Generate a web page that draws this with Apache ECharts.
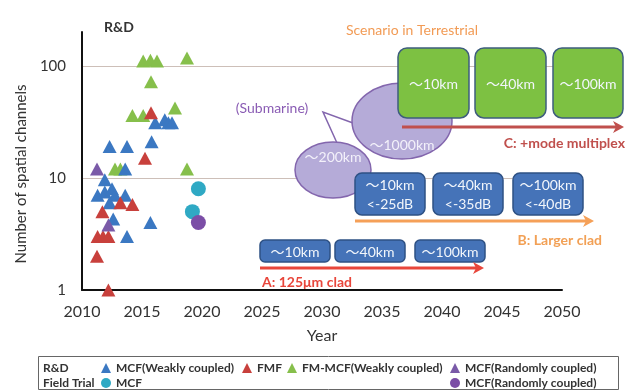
<!DOCTYPE html>
<html><head><meta charset="utf-8">
<script src="https://cdn.jsdelivr.net/npm/echarts@6/dist/echarts.min.js"></script>
<style>html,body{margin:0;padding:0;background:#fff}#c{width:635px;height:390px}</style>
</head><body><div id="c"></div>
<script>
// ---- data (year, number of spatial channels) ----
const mcfWeakly = [[2012.3,19],[2013.75,19],[2015.8,21],[2016.1,31],[2016.9,33],[2017.2,31],[2017.5,31],
  [2013.6,12],[2011.9,9.6],[2011.3,7],[2011.9,7.5],[2012.5,8],[2012.75,7],[2013.6,7],[2012.3,6],
  [2012.6,4.3],[2015.7,4],[2013.75,3]];
const fmf = [[2015.75,38],[2015.25,15],[2013.2,6],[2014.2,5.8],[2011.7,5],[2011.3,3],[2011.75,3],[2012.2,3],
  [2011.25,2],[2012.2,1]];
const fmMcfWeakly = [[2015.1,110],[2015.7,112],[2016.25,110],[2018.75,117],[2015.75,72],[2014.2,36],[2015.1,36],
  [2017.75,42],[2012.75,12],[2013.2,12],[2018.75,12]];
const mcfRandomly = [[2011.25,12],[2012.2,3.8]];
const fieldMcf = [[2019.7,8],[2019.2,5]];
const fieldMcfRandomly = [[2019.7,4]];
const seriesNames = ['MCF(Weakly coupled)','FMF','FM-MCF(Weakly coupled)','MCF(Randomly coupled)','FT MCF','FT MCF(Randomly coupled)'];
const xMin = 2010, xMax = 2050, xStep = 5;
const yMin = 1, yMax = 200;

const FONT = 'Lato, "Noto Sans CJK JP", sans-serif';
const chart = echarts.init(document.getElementById('c'), null, {renderer:'canvas'});

function tri(name, data, color){
  return {type:'scatter', name, data, symbol:'triangle', symbolSize:[14,13], clip:false,
    itemStyle:{color, opacity:1}, z:3};
}
function dot(name, data, color){
  return {type:'scatter', name, data, symbol:'circle', symbolSize:15, clip:false,
    itemStyle:{color, opacity:1}, z:3};
}
function txt(text, x, y, fill, font, align){
  return {type:'text', z:20, style:{text, x, y, fill, font, align:align||'center', verticalAlign:'middle',
    textAlign:align||'center', textVerticalAlign:'middle'}};
}
function box(x, y, w, h, r, fill, stroke, lines){
  const els = [{type:'rect', z:10, shape:{x, y, width:w, height:h, r}, style:{fill, stroke, lineWidth:1.5}}];
  const cx = x + w/2;
  if (lines.length === 1) els.push(txt(lines[0], cx, y + h/2 + 1, '#f2f6fb', '14px ' + FONT));
  else { els.push(txt(lines[0], cx, y + h/2 - 9, '#f2f6fb', '14px ' + FONT));
         els.push(txt(lines[1], cx, y + h/2 + 10, '#f2f6fb', '14px ' + FONT)); }
  return els;
}
function arrow(x1, x2, y, color){
  return [
    {type:'line', z:11, shape:{x1, y1:y, x2:x2-6, y2:y}, style:{stroke:color, lineWidth:3}},
    {type:'polygon', z:11, shape:{points:[[x2-11,y-6],[x2,y],[x2-11,y+6],[x2-8,y]]}, style:{fill:color}}
  ];
}
function legendItem(name, left, top, icon){
  return {show:true, left, top, padding:0, itemWidth:10, itemHeight:10, itemGap:0, icon, z:30,
    selectedMode:false, data:[name], formatter:n=>n.replace(/^FT /,''),
    textStyle:{fontFamily:FONT, fontSize:12, fontWeight:'bold', color:'#333'}};
}

const green = '#7dc142', greenStroke = '#3e5d7d';
const blueBox = '#4573b8', blueStroke = '#2e5184';
let graphic = [];
// submarine callout
graphic.push({type:'polyline', z:8, shape:{points:[[337,143],[323,112],[353,123]]}, style:{fill:null, stroke:'#8366ad', lineWidth:1.5}});
graphic.push({type:'ellipse', z:9, shape:{cx:402, cy:121, rx:50, ry:38}, style:{fill:'#b5abd8', stroke:'#8366ad', lineWidth:1.5}});
graphic.push({type:'ellipse', z:9, shape:{cx:333, cy:170, rx:38, ry:28}, style:{fill:'#b5abd8', stroke:'#8366ad', lineWidth:1.5}});
graphic.push(txt('～1000km', 402, 145, '#f3f1fa', '14px ' + FONT));
graphic.push(txt('～200km', 333, 157, '#f3f1fa', '14px ' + FONT));
graphic.push(txt('(Submarine)', 272, 108, '#8a5cb4', '14px ' + FONT));
// terrestrial C
graphic.push(txt('Scenario in Terrestrial', 412, 30, '#f29b55', '14px ' + FONT));
graphic = graphic.concat(box(398, 48, 71, 70, 9, green, greenStroke, ['～10km']));
graphic = graphic.concat(box(475, 48, 71, 70, 9, green, greenStroke, ['～40km']));
graphic = graphic.concat(box(553, 48, 70, 70, 9, green, greenStroke, ['～100km']));
graphic = graphic.concat(arrow(402, 624, 127, '#c0504d'));
graphic.push(txt('C: +mode multiplex', 625, 143, '#c0504d', 'bold 14px ' + FONT, 'right'));
// B
graphic = graphic.concat(box(355, 173, 70, 42, 7, blueBox, blueStroke, ['～10km','<-25dB']));
graphic = graphic.concat(box(433, 173, 70, 42, 7, blueBox, blueStroke, ['～40km','<-35dB']));
graphic = graphic.concat(box(513, 173, 70, 42, 7, blueBox, blueStroke, ['～100km','<-40dB']));
graphic = graphic.concat(arrow(355, 594, 221, '#f5a058'));
graphic.push(txt('B: Larger clad', 602, 240, '#f2a055', 'bold 14px ' + FONT, 'right'));
// A
graphic = graphic.concat(box(260, 240, 70, 22, 5, blueBox, blueStroke, ['～10km']));
graphic = graphic.concat(box(335, 240, 70, 22, 5, blueBox, blueStroke, ['～40km']));
graphic = graphic.concat(box(415, 240, 70, 22, 5, blueBox, blueStroke, ['～100km']));
graphic = graphic.concat(arrow(260, 484, 268, '#e8463b'));
graphic.push(txt('A: 125μm clad', 262, 282, '#e8463b', 'bold 14px ' + FONT, 'left'));
// labels
graphic.push(txt('R&D', 119, 27, '#333', 'bold 14px ' + FONT));
graphic.push({type:'rect', z:1, shape:{x:38.5, y:356.5, width:580, height:33}, style:{fill:null, stroke:'#666', lineWidth:1}});
graphic.push(txt('R&D', 43, 368, '#333', 'bold 12px ' + FONT, 'left'));
graphic.push(txt('Field Trial', 43, 383, '#333', 'bold 12px ' + FONT, 'left'));

chart.setOption({
  animation:false,
  backgroundColor:'#fff',
  textStyle:{fontFamily:FONT},
  grid:{left:82, right:73, top:32, bottom:100},
  xAxis:{type:'value', min:xMin, max:xMax, interval:xStep,
    name:'Year', nameLocation:'middle', nameGap:38,
    nameTextStyle:{fontSize:16, color:'#333', fontFamily:FONT},
    axisLine:{show:true, onZero:false, lineStyle:{color:'#111', width:2}},
    axisTick:{show:false}, splitLine:{show:false},
    axisLabel:{fontSize:16, color:'#333', margin:14, fontFamily:FONT, formatter:v=>String(v)}},
  yAxis:{type:'log', logBase:10, min:yMin, max:yMax, interval:1,
    name:'Number of spatial channels', nameLocation:'middle', nameGap:48,
    nameTextStyle:{fontSize:15, color:'#333', fontFamily:FONT, padding:[0,26,0,0]},
    axisLine:{show:true, lineStyle:{color:'#111', width:2}},
    axisTick:{show:false},
    splitLine:{show:true, showMinLine:false, showMaxLine:false, lineStyle:{color:'#cdbfb8', width:1}},
    axisLabel:{fontSize:15, color:'#333', margin:16, fontFamily:FONT, showMaxLabel:false}},
  legend:[
    legendItem(seriesNames[0], 101, 362, 'triangle'),
    legendItem(seriesNames[1], 242, 362, 'triangle'),
    legendItem(seriesNames[2], 287, 362, 'triangle'),
    legendItem(seriesNames[3], 450, 362, 'triangle'),
    legendItem(seriesNames[4], 101, 377, 'circle'),
    legendItem(seriesNames[5], 450, 377, 'circle')
  ],
  series:[
    tri(seriesNames[2], fmMcfWeakly, '#86bf4b'),
    tri(seriesNames[0], mcfWeakly, '#3b78c2'),
    tri(seriesNames[1], fmf, '#c8403c'),
    tri(seriesNames[3], mcfRandomly, '#7a5aa8'),
    dot(seriesNames[4], fieldMcf, '#2fa9c4'),
    dot(seriesNames[5], fieldMcfRandomly, '#7b4ea6')
  ],
  graphic:{elements:graphic}
});
</script></body></html>
